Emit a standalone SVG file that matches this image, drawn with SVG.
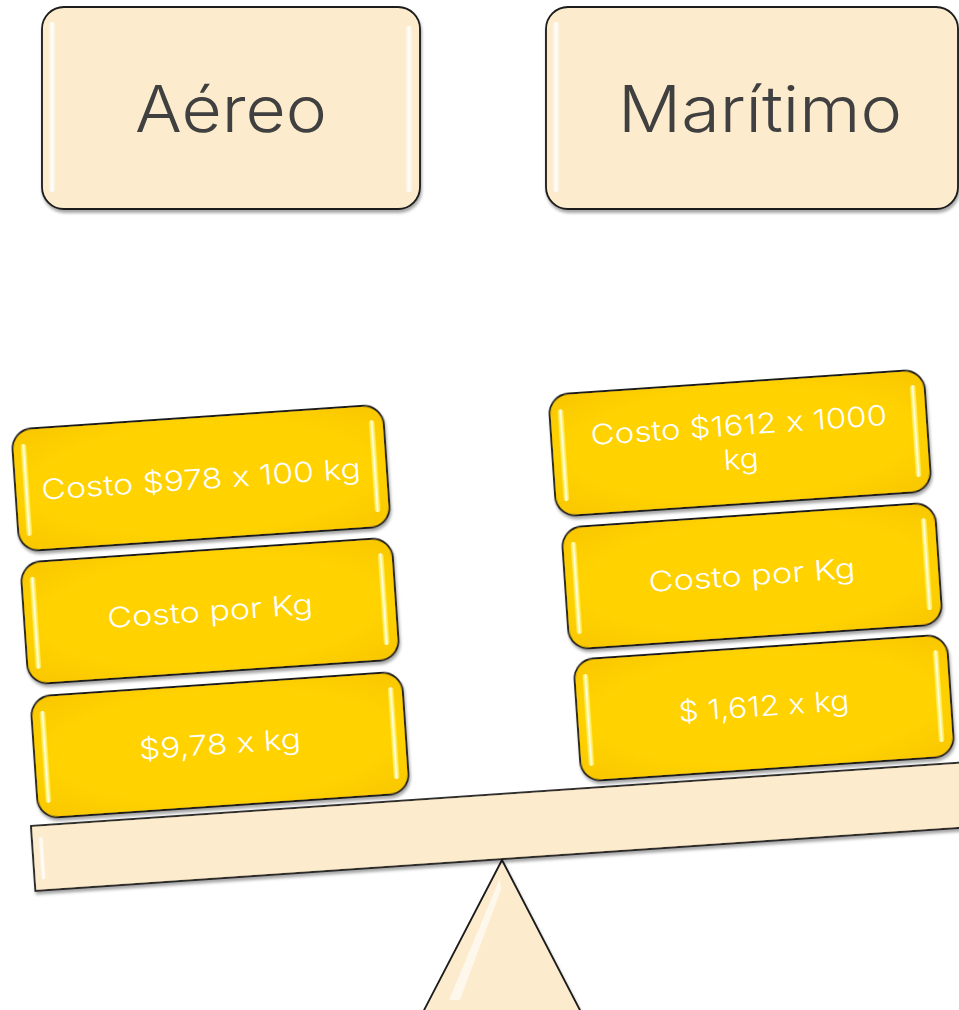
<svg xmlns="http://www.w3.org/2000/svg" width="959" height="1010" viewBox="0 0 959 1010">
<defs>
<filter id="sh" x="-10%" y="-10%" width="120%" height="130%">
<feDropShadow dx="1" dy="3" stdDeviation="1.6" flood-color="#000" flood-opacity="0.35"/>
</filter>
<linearGradient id="strip" x1="0" y1="0" x2="1" y2="0">
<stop offset="0" stop-color="#fff" stop-opacity="0"/>
<stop offset="0.5" stop-color="#fff" stop-opacity="1"/>
<stop offset="1" stop-color="#fff" stop-opacity="0"/>
</linearGradient>
<linearGradient id="ystrip" x1="0" y1="0" x2="1" y2="0">
<stop offset="0" stop-color="#fff046" stop-opacity="0.6"/>
<stop offset="0.5" stop-color="#ffffe6" stop-opacity="1"/>
<stop offset="1" stop-color="#fff046" stop-opacity="0.6"/>
</linearGradient>
<radialGradient id="ygrad" cx="0.5" cy="0.5" r="0.75">
<stop offset="0.6" stop-color="#ffd200"/>
<stop offset="1" stop-color="#f7c400"/>
</radialGradient>
</defs>
<style>
.beige{fill:#fcebcc;stroke:#1a1a1a;stroke-width:1.8}
.gold{fill:url(#ygrad);stroke:#1a1a1a;stroke-width:1.8}
.title{font-family:Inter,'Noto Sans',sans-serif;font-weight:300;font-size:64px;fill:#404040;text-anchor:middle;font-feature-settings:"calt" 0}
.lbl{font-family:Inter,'Noto Sans',sans-serif;font-weight:300;font-size:28px;fill:#ffffff;text-anchor:middle;font-feature-settings:"calt" 0}
.hw{fill:url(#strip)}
.hy{fill:url(#ystrip)}
</style>
<g id="connectors"/>
<g id="fulcrum">
<polygon class="beige" points="502,860 421,1016 583,1016" filter="url(#sh)"/>
<polygon points="500,878 449,1000 460,1000 501,890" fill="#fff" opacity="0.6"/>
</g>
<g id="beam" transform="translate(31,826) rotate(-3.9)">
<rect class="beige" x="0" y="0" width="945" height="65" filter="url(#sh)"/>
<rect class="hw" x="6" y="12" width="6" height="42" rx="3"/>
<rect class="hw" x="932" y="10" width="6" height="42" rx="3"/>
</g>
<g id="aereo">
<rect class="beige" x="42" y="7" width="378" height="202" rx="22" filter="url(#sh)"/>
<rect class="hw" x="48" y="22" width="8" height="170" rx="4"/>
<rect class="hw" x="405" y="26" width="8" height="166" rx="4"/>
<text class="title" x="231" y="132" textLength="192" lengthAdjust="spacingAndGlyphs">Aéreo</text>
</g>
<g id="maritimo">
<rect class="beige" x="546" y="7" width="412" height="202" rx="22" filter="url(#sh)"/>
<rect class="hw" x="552" y="22" width="8" height="170" rx="4"/>
<text class="title" x="760" y="132" textLength="284" lengthAdjust="spacingAndGlyphs">Marítimo</text>
</g>
<g id="aereo-1" transform="translate(201,478) rotate(-3.9)">
<rect class="gold" x="-186" y="-61" width="372" height="122" rx="20" filter="url(#sh)"/>
<rect class="hy" x="-178" y="-46" width="6" height="92" rx="3"/>
<rect class="hy" x="171" y="-46" width="6" height="92" rx="3"/>
<text class="lbl" x="0" y="11" textLength="320" lengthAdjust="spacingAndGlyphs">Costo $978 x 100 kg</text>
</g>
<g id="aereo-2" transform="translate(210,611) rotate(-3.9)">
<rect class="gold" x="-186" y="-61" width="372" height="122" rx="20" filter="url(#sh)"/>
<rect class="hy" x="-178" y="-46" width="6" height="92" rx="3"/>
<rect class="hy" x="171" y="-46" width="6" height="92" rx="3"/>
<text class="lbl" x="0" y="10" textLength="206" lengthAdjust="spacingAndGlyphs">Costo por Kg</text>
</g>
<g id="aereo-3" transform="translate(220,745) rotate(-3.9)">
<rect class="gold" x="-186" y="-61" width="372" height="122" rx="20" filter="url(#sh)"/>
<rect class="hy" x="-178" y="-46" width="6" height="92" rx="3"/>
<rect class="hy" x="171" y="-46" width="6" height="92" rx="3"/>
<text class="lbl" x="0" y="9" textLength="162" lengthAdjust="spacingAndGlyphs">$9,78 x kg</text>
</g>
<g id="maritimo-1" transform="translate(740,443) rotate(-3.9)">
<rect class="gold" x="-188" y="-61" width="376" height="122" rx="20" filter="url(#sh)"/>
<rect class="hy" x="-180" y="-46" width="6" height="92" rx="3"/>
<rect class="hy" x="173" y="-46" width="6" height="92" rx="3"/>
<text class="lbl" x="0" y="-8" textLength="297" lengthAdjust="spacingAndGlyphs">Costo $1612 x 1000</text>
<text class="lbl" x="0" y="26" textLength="35" lengthAdjust="spacingAndGlyphs">kg</text>
</g>
<g id="maritimo-2" transform="translate(752,576) rotate(-3.9)">
<rect class="gold" x="-187" y="-61" width="374" height="122" rx="20" filter="url(#sh)"/>
<rect class="hy" x="-179" y="-46" width="6" height="92" rx="3"/>
<rect class="hy" x="172" y="-46" width="6" height="92" rx="3"/>
<text class="lbl" x="0" y="9" textLength="207" lengthAdjust="spacingAndGlyphs">Costo por Kg</text>
</g>
<g id="maritimo-3" transform="translate(764,708) rotate(-3.9)">
<rect class="gold" x="-187" y="-61" width="374" height="122" rx="20" filter="url(#sh)"/>
<rect class="hy" x="-179" y="-46" width="6" height="92" rx="3"/>
<rect class="hy" x="172" y="-46" width="6" height="92" rx="3"/>
<text class="lbl" x="0" y="8" textLength="171" lengthAdjust="spacingAndGlyphs">$ 1,612 x kg</text>
</g>
</svg>
